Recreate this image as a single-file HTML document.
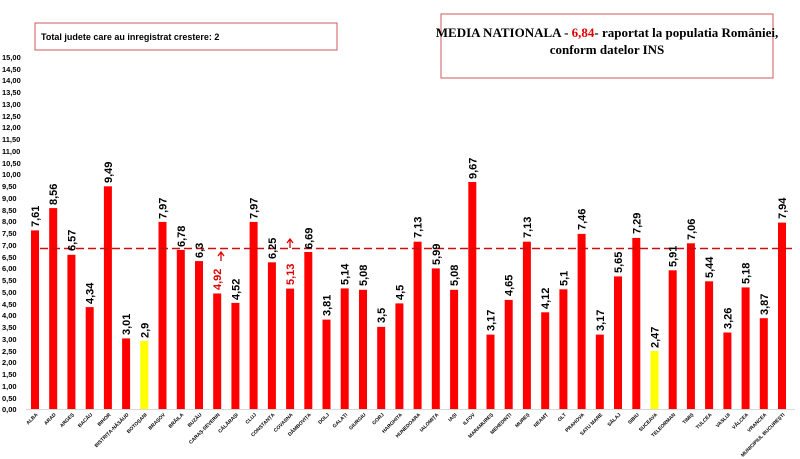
<!DOCTYPE html>
<html><head><meta charset="utf-8"><style>
html,body{margin:0;padding:0;background:#fff;}
svg{display:block;}
.yl{font:bold 7.5px "Liberation Sans",sans-serif;fill:#000;}
.v{font:bold 11px "Liberation Sans",sans-serif;fill:#000;}
.vr{font:bold 11px "Liberation Sans",sans-serif;fill:#e00000;}
.c{font:bold 5px "Liberation Sans",sans-serif;fill:#000;}
</style></head><body>
<svg width="800" height="459" viewBox="0 0 800 459" xmlns="http://www.w3.org/2000/svg">
<rect x="35" y="23" width="302" height="27" fill="#fff" stroke="#d05a5a" stroke-width="1"/>
<text x="41" y="40" style="font:bold 9px 'Liberation Sans',sans-serif">Total judete care au inregistrat crestere: 2</text>
<rect x="441" y="14" width="332" height="64" fill="#fff" stroke="#d05a5a" stroke-width="1"/>
<text x="607" y="37" text-anchor="middle" style="font:bold 13px 'Liberation Serif',serif">MEDIA NATIONALA - <tspan fill="#e00000">6,84</tspan>-  raportat la populatia României,</text>
<text x="607" y="54" text-anchor="middle" style="font:bold 13px 'Liberation Serif',serif">conform datelor INS</text>
<g text-anchor="start">
<text class="yl" x="2" y="60">15,00</text><text class="yl" x="2" y="72">14,50</text><text class="yl" x="2" y="83">14,00</text><text class="yl" x="2" y="95">13,50</text><text class="yl" x="2" y="107">13,00</text><text class="yl" x="2" y="119">12,50</text><text class="yl" x="2" y="130">12,00</text><text class="yl" x="2" y="142">11,50</text><text class="yl" x="2" y="154">11,00</text><text class="yl" x="2" y="166">10,50</text><text class="yl" x="2" y="177">10,00</text><text class="yl" x="2" y="189">9,50</text><text class="yl" x="2" y="201">9,00</text><text class="yl" x="2" y="213">8,50</text><text class="yl" x="2" y="224">8,00</text><text class="yl" x="2" y="236">7,50</text><text class="yl" x="2" y="248">7,00</text><text class="yl" x="2" y="260">6,50</text><text class="yl" x="2" y="271">6,00</text><text class="yl" x="2" y="283">5,50</text><text class="yl" x="2" y="295">5,00</text><text class="yl" x="2" y="307">4,50</text><text class="yl" x="2" y="318">4,00</text><text class="yl" x="2" y="330">3,50</text><text class="yl" x="2" y="342">3,00</text><text class="yl" x="2" y="354">2,50</text><text class="yl" x="2" y="365">2,00</text><text class="yl" x="2" y="377">1,50</text><text class="yl" x="2" y="389">1,00</text><text class="yl" x="2" y="401">0,50</text><text class="yl" x="2" y="412">0,00</text>
</g>
<line x1="26" y1="409.5" x2="795" y2="409.5" stroke="#d9d9d9" stroke-width="1"/>
<g fill="#ff0000">
<rect x="31" y="230.4" width="8" height="178.6"/>
<rect x="49.2" y="208.1" width="8" height="200.9"/>
<rect x="67.4" y="254.8" width="8" height="154.2"/>
<rect x="85.7" y="307.1" width="8" height="101.9"/>
<rect x="103.9" y="186.3" width="8" height="222.7"/>
<rect x="122.1" y="338.4" width="8" height="70.6"/>
<rect x="140.3" y="340.9" width="8" height="68.1" fill="#ffff00"/>
<rect x="158.5" y="221.9" width="8" height="187.1"/>
<rect x="176.8" y="249.9" width="8" height="159.1"/>
<rect x="195" y="261.1" width="8" height="147.9"/>
<rect x="213.2" y="293.5" width="8" height="115.5"/>
<rect x="231.4" y="302.9" width="8" height="106.1"/>
<rect x="249.6" y="221.9" width="8" height="187.1"/>
<rect x="267.9" y="262.3" width="8" height="146.7"/>
<rect x="286.1" y="288.6" width="8" height="120.4"/>
<rect x="304.3" y="252" width="8" height="157"/>
<rect x="322.5" y="319.6" width="8" height="89.4"/>
<rect x="340.7" y="288.4" width="8" height="120.6"/>
<rect x="359" y="289.8" width="8" height="119.2"/>
<rect x="377.2" y="326.9" width="8" height="82.1"/>
<rect x="395.4" y="303.4" width="8" height="105.6"/>
<rect x="413.6" y="241.7" width="8" height="167.3"/>
<rect x="431.8" y="268.4" width="8" height="140.6"/>
<rect x="450.1" y="289.8" width="8" height="119.2"/>
<rect x="468.3" y="182" width="8" height="227"/>
<rect x="486.5" y="334.6" width="8" height="74.4"/>
<rect x="504.7" y="299.9" width="8" height="109.1"/>
<rect x="522.9" y="241.7" width="8" height="167.3"/>
<rect x="541.2" y="312.3" width="8" height="96.7"/>
<rect x="559.4" y="289.3" width="8" height="119.7"/>
<rect x="577.6" y="233.9" width="8" height="175.1"/>
<rect x="595.8" y="334.6" width="8" height="74.4"/>
<rect x="614" y="276.4" width="8" height="132.6"/>
<rect x="632.3" y="237.9" width="8" height="171.1"/>
<rect x="650.5" y="351" width="8" height="58" fill="#ffff00"/>
<rect x="668.7" y="270.3" width="8" height="138.7"/>
<rect x="686.9" y="243.3" width="8" height="165.7"/>
<rect x="705.1" y="281.3" width="8" height="127.7"/>
<rect x="723.4" y="332.5" width="8" height="76.5"/>
<rect x="741.6" y="287.4" width="8" height="121.6"/>
<rect x="759.8" y="318.2" width="8" height="90.8"/>
<rect x="778" y="222.6" width="8" height="186.4"/>
</g>
<line x1="40" y1="248.5" x2="795" y2="248.5" stroke="#c81010" stroke-width="1.6" stroke-dasharray="8,4"/>
<g>
<text class="v" transform="translate(39,227) rotate(-90)">7,61</text>
<text class="v" transform="translate(57.2,205) rotate(-90)">8,56</text>
<text class="v" transform="translate(75.4,251) rotate(-90)">6,57</text>
<text class="v" transform="translate(93.7,304) rotate(-90)">4,34</text>
<text class="v" transform="translate(111.9,183) rotate(-90)">9,49</text>
<text class="v" transform="translate(130.1,335) rotate(-90)">3,01</text>
<text class="v" transform="translate(148.3,338) rotate(-90)">2,9</text>
<text class="v" transform="translate(166.5,219) rotate(-90)">7,97</text>
<text class="v" transform="translate(184.8,247) rotate(-90)">6,78</text>
<text class="v" transform="translate(203,258) rotate(-90)">6,3</text>
<text class="vr" transform="translate(221.2,290) rotate(-90)">4,92</text>
<text class="v" transform="translate(239.4,300) rotate(-90)">4,52</text>
<text class="v" transform="translate(257.6,219) rotate(-90)">7,97</text>
<text class="v" transform="translate(275.9,259) rotate(-90)">6,25</text>
<text class="vr" transform="translate(294.1,285) rotate(-90)">5,13</text>
<text class="v" transform="translate(312.3,249) rotate(-90)">6,69</text>
<text class="v" transform="translate(330.5,316) rotate(-90)">3,81</text>
<text class="v" transform="translate(348.7,285) rotate(-90)">5,14</text>
<text class="v" transform="translate(367,286) rotate(-90)">5,08</text>
<text class="v" transform="translate(385.2,323) rotate(-90)">3,5</text>
<text class="v" transform="translate(403.4,300) rotate(-90)">4,5</text>
<text class="v" transform="translate(421.6,238) rotate(-90)">7,13</text>
<text class="v" transform="translate(439.8,265) rotate(-90)">5,99</text>
<text class="v" transform="translate(458.1,286) rotate(-90)">5,08</text>
<text class="v" transform="translate(476.3,179) rotate(-90)">9,67</text>
<text class="v" transform="translate(494.5,331) rotate(-90)">3,17</text>
<text class="v" transform="translate(512.7,296) rotate(-90)">4,65</text>
<text class="v" transform="translate(530.9,238) rotate(-90)">7,13</text>
<text class="v" transform="translate(549.2,309) rotate(-90)">4,12</text>
<text class="v" transform="translate(567.4,286) rotate(-90)">5,1</text>
<text class="v" transform="translate(585.6,230) rotate(-90)">7,46</text>
<text class="v" transform="translate(603.8,331) rotate(-90)">3,17</text>
<text class="v" transform="translate(622,273) rotate(-90)">5,65</text>
<text class="v" transform="translate(640.3,234) rotate(-90)">7,29</text>
<text class="v" transform="translate(658.5,348) rotate(-90)">2,47</text>
<text class="v" transform="translate(676.7,267) rotate(-90)">5,91</text>
<text class="v" transform="translate(694.9,240) rotate(-90)">7,06</text>
<text class="v" transform="translate(713.1,278) rotate(-90)">5,44</text>
<text class="v" transform="translate(731.4,329) rotate(-90)">3,26</text>
<text class="v" transform="translate(749.6,284) rotate(-90)">5,18</text>
<text class="v" transform="translate(767.8,315) rotate(-90)">3,87</text>
<text class="v" transform="translate(786,219) rotate(-90)">7,94</text>
</g>
<g stroke="#e00000" stroke-width="1.3" fill="none">
<path d="M218 256 L221 252 L224 256 M221 252 L221 261"/>
<path d="M287 243 L290 239 L293 243 M290 239 L290 248"/>
</g>
<g text-anchor="end">
<text class="c" transform="translate(38,415) rotate(-45)">ALBA</text>
<text class="c" transform="translate(56.2,415) rotate(-45)">ARAD</text>
<text class="c" transform="translate(74.4,415) rotate(-45)">ARGEȘ</text>
<text class="c" transform="translate(92.7,415) rotate(-45)">BACĂU</text>
<text class="c" transform="translate(110.9,415) rotate(-45)">BIHOR</text>
<text class="c" transform="translate(129.1,415) rotate(-45)">BISTRIȚA-NĂSĂUD</text>
<text class="c" transform="translate(147.3,415) rotate(-45)">BOTOȘANI</text>
<text class="c" transform="translate(165.5,415) rotate(-45)">BRAȘOV</text>
<text class="c" transform="translate(183.8,415) rotate(-45)">BRĂILA</text>
<text class="c" transform="translate(202,415) rotate(-45)">BUZĂU</text>
<text class="c" transform="translate(220.2,415) rotate(-45)">CARAȘ-SEVERIN</text>
<text class="c" transform="translate(238.4,415) rotate(-45)">CĂLĂRAȘI</text>
<text class="c" transform="translate(256.6,415) rotate(-45)">CLUJ</text>
<text class="c" transform="translate(274.9,415) rotate(-45)">CONSTANȚA</text>
<text class="c" transform="translate(293.1,415) rotate(-45)">COVASNA</text>
<text class="c" transform="translate(311.3,415) rotate(-45)">DÂMBOVIȚA</text>
<text class="c" transform="translate(329.5,415) rotate(-45)">DOLJ</text>
<text class="c" transform="translate(347.7,415) rotate(-45)">GALAȚI</text>
<text class="c" transform="translate(366,415) rotate(-45)">GIURGIU</text>
<text class="c" transform="translate(384.2,415) rotate(-45)">GORJ</text>
<text class="c" transform="translate(402.4,415) rotate(-45)">HARGHITA</text>
<text class="c" transform="translate(420.6,415) rotate(-45)">HUNEDOARA</text>
<text class="c" transform="translate(438.8,415) rotate(-45)">IALOMIȚA</text>
<text class="c" transform="translate(457.1,415) rotate(-45)">IAȘI</text>
<text class="c" transform="translate(475.3,415) rotate(-45)">ILFOV</text>
<text class="c" transform="translate(493.5,415) rotate(-45)">MARAMUREȘ</text>
<text class="c" transform="translate(511.7,415) rotate(-45)">MEHEDINȚI</text>
<text class="c" transform="translate(529.9,415) rotate(-45)">MUREȘ</text>
<text class="c" transform="translate(548.2,415) rotate(-45)">NEAMȚ</text>
<text class="c" transform="translate(566.4,415) rotate(-45)">OLT</text>
<text class="c" transform="translate(584.6,415) rotate(-45)">PRAHOVA</text>
<text class="c" transform="translate(602.8,415) rotate(-45)">SATU MARE</text>
<text class="c" transform="translate(621,415) rotate(-45)">SĂLAJ</text>
<text class="c" transform="translate(639.3,415) rotate(-45)">SIBIU</text>
<text class="c" transform="translate(657.5,415) rotate(-45)">SUCEAVA</text>
<text class="c" transform="translate(675.7,415) rotate(-45)">TELEORMAN</text>
<text class="c" transform="translate(693.9,415) rotate(-45)">TIMIȘ</text>
<text class="c" transform="translate(712.1,415) rotate(-45)">TULCEA</text>
<text class="c" transform="translate(730.4,415) rotate(-45)">VASLUI</text>
<text class="c" transform="translate(748.6,415) rotate(-45)">VÂLCEA</text>
<text class="c" transform="translate(766.8,415) rotate(-45)">VRANCEA</text>
<text class="c" transform="translate(785,415) rotate(-45)">MUNICIPIUL BUCUREȘTI</text>
</g>
</svg>
</body></html>
